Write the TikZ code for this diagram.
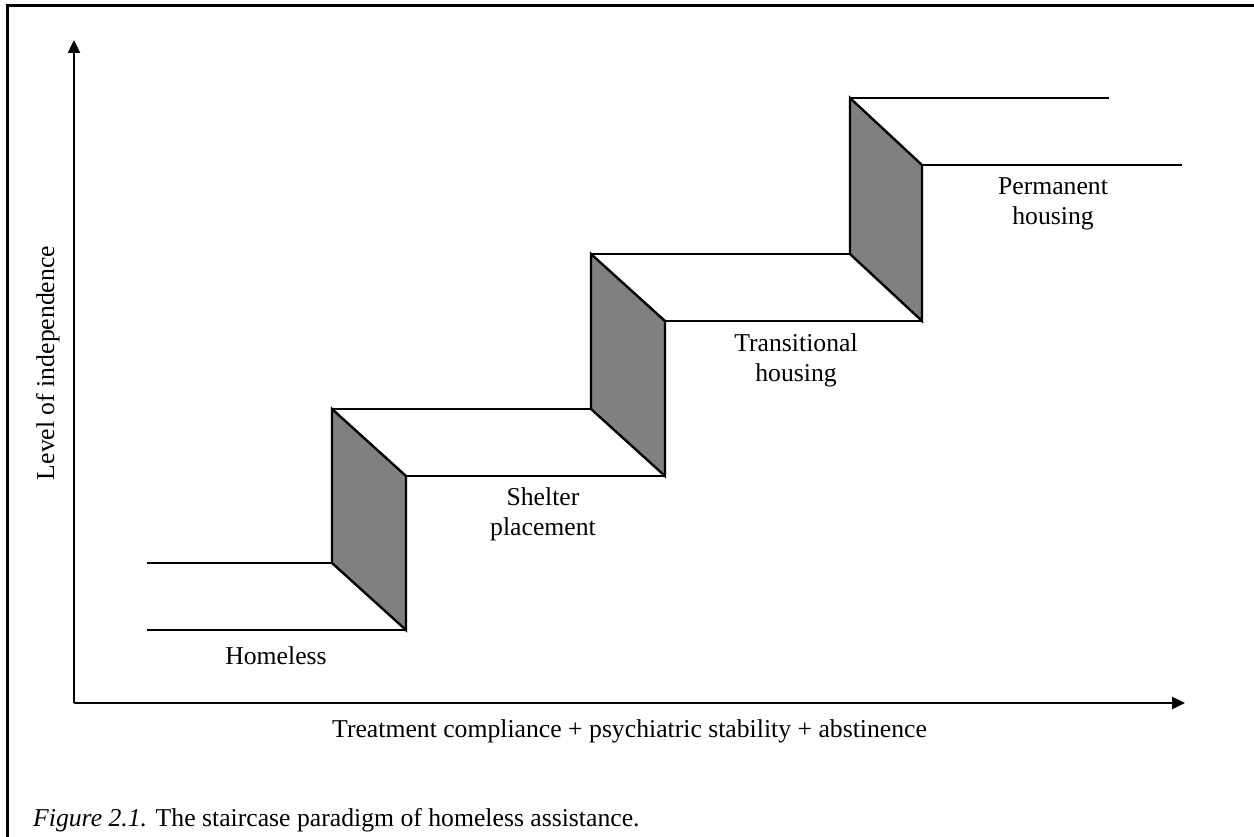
\documentclass[tikz,border=0pt]{standalone}
\usepackage{fontspec}
\setmainfont{Liberation Serif}
\usetikzlibrary{arrows.meta}
\definecolor{riserfill}{RGB}{128,128,128}
\begin{document}
\begin{tikzpicture}[x=1pt,y=-1pt,
  edge/.style={line width=2.4pt, line join=miter, line cap=butt},
  riser/.style={edge, fill=riserfill},
  axisline/.style={line width=2.4pt, -{Triangle[length=13pt,width=12pt]}},
  lbl/.style={font=\fontsize{25.7}{30}\selectfont, align=center, inner sep=0pt}]
\useasboundingbox (0,0) rectangle (1254,837);

% frame (open to the right and bottom)
\draw[line width=3pt] (7,860) -- (7,6) -- (1270,6);

% axes
\coordinate (o) at (74,703);
\coordinate (ytip) at (74,40);
\coordinate (xtip) at (1185,703);
\draw[axisline] (o) -- (ytip);
\draw[axisline] (o) -- (xtip);

% step corners
\coordinate (s0u) at (147,563); \coordinate (s0l) at (147,630);
\coordinate (r1a) at (332,409); \coordinate (r1b) at (406,476);
\coordinate (r1c) at (406,630); \coordinate (r1d) at (332,563);
\coordinate (r2a) at (591,254); \coordinate (r2b) at (665,321);
\coordinate (r2c) at (665,476); \coordinate (r2d) at (591,409);
\coordinate (r3a) at (850,98);  \coordinate (r3b) at (922,165);
\coordinate (r3c) at (922,321); \coordinate (r3d) at (850,254);
\coordinate (e4u) at (1109,98); \coordinate (e4l) at (1182,165);

% treads
\draw[edge] (s0u) -- (r1d);  \draw[edge] (s0l) -- (r1c);
\draw[edge] (r1a) -- (r2d);  \draw[edge] (r1b) -- (r2c);
\draw[edge] (r2a) -- (r3d);  \draw[edge] (r2b) -- (r3c);
\draw[edge] (r3a) -- (e4u);  \draw[edge] (r3b) -- (e4l);

% risers
\draw[riser] (r1a) -- (r1b) -- (r1c) -- (r1d) -- cycle;
\draw[riser] (r2a) -- (r2b) -- (r2c) -- (r2d) -- cycle;
\draw[riser] (r3a) -- (r3b) -- (r3c) -- (r3d) -- cycle;

% stage labels
\node[lbl] (homeless) at (276,656) {Homeless};
\node[lbl] (shelter) at (543,514) {Shelter\\placement};
\node[lbl] (transitional) at (796,360) {Transitional\\housing};
\node[lbl] (permanent) at (1053,204) {Permanent\\housing};

% axis labels
\node[lbl, anchor=base west] (xlabel) at (332,737) {Treatment compliance + psychiatric stability + abstinence};
\node[lbl, rotate=90, anchor=base] (ylabel) at (54,363) {Level of independence};

% caption
\node[lbl, anchor=base west] (caption) at (33,826) {\textit{Figure 2.1.} The staircase paradigm of homeless assistance.};
\end{tikzpicture}
\end{document}
